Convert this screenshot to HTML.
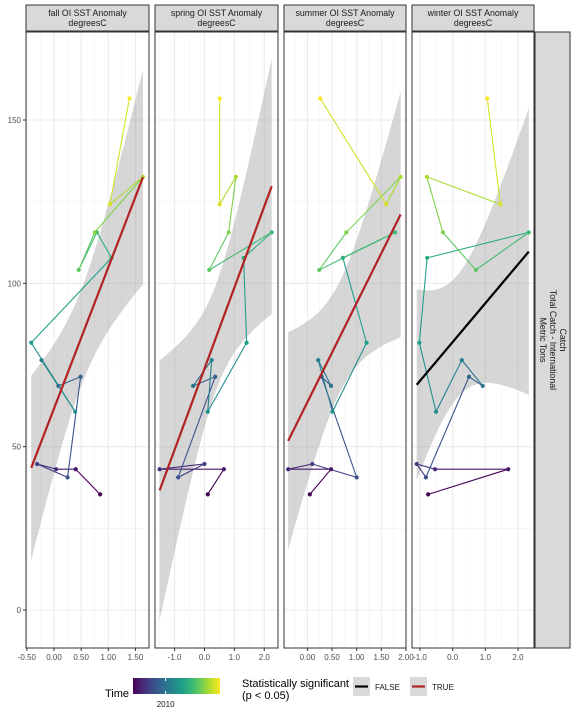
<!DOCTYPE html>
<html><head><meta charset="utf-8"><style>
body{margin:0;background:#fff;}
svg{display:block;font-family:"Liberation Sans",sans-serif;}
</style></head><body>
<svg id="chart" width="576" height="720" viewBox="0 0 576 720" xmlns="http://www.w3.org/2000/svg">
<defs>
<linearGradient id="vir" x1="0" x2="1" y1="0" y2="0">
<stop offset="0" stop-color="#440154"/><stop offset="0.11" stop-color="#482878"/><stop offset="0.22" stop-color="#3E4A89"/><stop offset="0.33" stop-color="#31688E"/><stop offset="0.44" stop-color="#26828E"/><stop offset="0.56" stop-color="#1F9E89"/><stop offset="0.67" stop-color="#35B779"/><stop offset="0.78" stop-color="#6DCD59"/><stop offset="0.89" stop-color="#B4DE2C"/><stop offset="1" stop-color="#FDE725"/>
</linearGradient>
</defs>
</svg>
<script>
const years=[2004,2005,2006,2007,2008,2009,2010,2011,2012,2013,2014,2015,2016,2017,2018,2019,2020];
const catchVals=[35.4,43.1,43.1,44.7,40.6,71.4,68.6,76.5,60.7,81.8,107.8,115.6,104.1,115.6,132.6,124.2,156.6];
const panelNames=["fall","spring","summer","winter"];
const fallX=[0.85,0.40,0.04,-0.31,0.25,0.49,0.08,-0.23,0.39,-0.42,1.06,0.79,0.455,0.75,1.64,1.03,1.39];
const springX=[0.11,0.65,-1.5,0.0,-0.88,0.36,-0.38,0.24,0.11,1.41,1.31,2.25,0.16,0.81,1.05,0.51,0.51];
const summerX=[0.05,0.48,-0.39,0.10,1.00,0.29,0.48,0.22,0.51,1.20,0.72,1.78,0.24,0.79,1.89,1.60,0.26];
const winterX=[-0.75,1.70,-0.54,-1.10,-0.82,0.50,0.92,0.28,-0.51,-1.02,-0.78,2.33,0.71,-0.30,-0.79,1.46,1.06];
const significant=[true,true,true,false];
const xTicks=[[-0.5,0,0.5,1,1.5],[-1,0,1,2],[0,0.5,1,1.5,2],[-1,0,1,2]];
const xTickLabels=[["-0.50","0.00","0.50","1.00","1.50"],["-1.0","0.0","1.0","2.0"],["0.00","0.50","1.00","1.50","2.00"],["-1.0","0.0","1.0","2.0"]];
const yTicks=[0,50,100,150];

const NS="http://www.w3.org/2000/svg";
const svg=document.getElementById('chart');
function mk(tag,attrs,parent){const e=document.createElementNS(NS,tag);for(const k in attrs)e.setAttribute(k,attrs[k]);(parent||svg).appendChild(e);return e;}
const panels=[{l:26,r:149,x0:-0.516,x1:1.75},{l:155,r:278,x0:-1.655,x1:2.46},{l:284,r:406,x0:-0.474,x1:2.0},{l:412,r:534,x0:-1.245,x1:2.49}];
const allX=[fallX,springX,summerX,winterX];
const TOP=32,BOT=648;
function yS(v){return 610-v*3.2667;}
const vir=["#440154","#482878","#3E4A89","#31688E","#26828E","#1F9E89","#35B779","#6DCD59","#B4DE2C","#FDE725"];
function hex(h){return [1,3,5].map(i=>parseInt(h.substr(i,2),16));}
function color(y){const t=(y-years[0])/(years[years.length-1]-years[0]);const p=t*(vir.length-1);const i=Math.min(Math.floor(p),vir.length-2);const f=p-i;const a=hex(vir[i]),b=hex(vir[i+1]);return 'rgb('+a.map((c,k)=>Math.round(c+(b[k]-c)*f)).join(',')+')';}

panels.forEach((P,pi)=>{
  const xs=v=>P.l+(v-P.x0)/(P.x1-P.x0)*(P.r-P.l);
  const g=mk('g',{});
  
  
  mk('clipPath',{id:'clip'+pi},g);
  mk('rect',{x:P.l,y:TOP,width:P.r-P.l,height:BOT-TOP},document.getElementById('clip'+pi));
  mk('rect',{x:P.l,y:TOP,width:P.r-P.l,height:BOT-TOP,fill:'#fff'},g);
  [25,75,125].forEach(v=>mk('line',{x1:P.l,x2:P.r,y1:yS(v),y2:yS(v),stroke:'#f2f2f2','stroke-width':0.55},g));
  const tk=xTicks[pi],step=tk[1]-tk[0];
  for(let v=tk[0]-step/2;v<=P.x1;v+=step){if(v>=P.x0)mk('line',{x1:xs(v),x2:xs(v),y1:TOP,y2:BOT,stroke:'#f2f2f2','stroke-width':0.55},g);}
  yTicks.forEach(v=>mk('line',{x1:P.l,x2:P.r,y1:yS(v),y2:yS(v),stroke:'#ebebeb','stroke-width':1.1},g));
  tk.forEach(v=>mk('line',{x1:xs(v),x2:xs(v),y1:TOP,y2:BOT,stroke:'#ebebeb','stroke-width':1.1},g));
  const X=allX[pi],n=X.length;
  const mx=X.reduce((a,b)=>a+b)/n,my=catchVals.reduce((a,b)=>a+b)/n;
  let sxx=0,sxy=0;X.forEach((x,i)=>{sxx+=(x-mx)**2;sxy+=(x-mx)*(catchVals[i]-my);});
  const b=sxy/sxx,a=my-b*mx;
  let sse=0;X.forEach((x,i)=>{sse+=(catchVals[i]-a-b*x)**2;});
  const s=Math.sqrt(sse/(n-2)),t=2.131;
  const xmin=Math.min(...X),xmax=Math.max(...X);
  const up=[],lo=[];
  for(let k=0;k<=80;k++){const x=xmin+(xmax-xmin)*k/80;const f=a+b*x;const se=s*Math.sqrt(1/n+(x-mx)**2/sxx);up.push(xs(x).toFixed(1)+','+yS(f+t*se).toFixed(1));lo.unshift(xs(x).toFixed(1)+','+yS(f-t*se).toFixed(1));}
  const band=mk('polygon',{points:up.concat(lo).join(' '),fill:'#999',opacity:0.4,'clip-path':'url(#clip'+pi+')'},g);
  
  
  for(let i=0;i<n-1;i++){
    const seg=mk('line',{x1:xs(X[i]),y1:yS(catchVals[i]),x2:xs(X[i+1]),y2:yS(catchVals[i+1]),stroke:color(years[i]),'stroke-width':1.1},g);
    
    
  }
  for(let i=0;i<n;i++){
    const pt=mk('circle',{cx:xs(X[i]),cy:yS(catchVals[i]),r:2.1,fill:color(years[i])},g);
    
    
  }
  const fit=mk('line',{x1:xs(xmin),y1:yS(a+b*xmin),x2:xs(xmax),y2:yS(a+b*xmax),stroke:significant[pi]?'#B22222':'#000','stroke-width':2.2,'clip-path':'url(#clip'+pi+')'},g);
  
  
  mk('rect',{x:P.l,y:TOP,width:P.r-P.l,height:BOT-TOP,fill:'none',stroke:'#333','stroke-width':1},g);
  mk('rect',{x:P.l,y:5,width:P.r-P.l,height:26,fill:'#d9d9d9',stroke:'#333','stroke-width':1},g);
  const st=mk('text',{x:(P.l+P.r)/2,y:16,'text-anchor':'middle','font-size':8.8,fill:'#1a1a1a'},g);
  st.textContent=panelNames[pi]+' OI SST Anomaly';
  
  
  const st2=mk('text',{x:(P.l+P.r)/2,y:26,'text-anchor':'middle','font-size':8.8,fill:'#1a1a1a'},g);
  st2.textContent='degreesC';
  tk.forEach((v,k)=>{
    mk('line',{x1:xs(v),x2:xs(v),y1:BOT,y2:BOT+3,stroke:'#333','stroke-width':1},g);
    const tl=mk('text',{x:xs(v),y:BOT+12,'text-anchor':'middle','font-size':8,fill:'#4d4d4d'},g);
    tl.textContent=xTickLabels[pi][k];
    
    
  });
});
yTicks.forEach(v=>{
  mk('line',{x1:23,x2:26,y1:yS(v),y2:yS(v),stroke:'#333','stroke-width':1});
  const tl=mk('text',{x:21,y:yS(v)+3,'text-anchor':'end','font-size':8,fill:'#4d4d4d'});
  tl.textContent=v;
  
  
});
const rs=mk('rect',{x:535,y:32,width:35,height:616,fill:'#d9d9d9',stroke:'#333','stroke-width':1});


['Catch','Total Catch - International','Metric Tons'].forEach((s,i)=>{
  const tx=mk('text',{x:0,y:0,'text-anchor':'middle','font-size':8.8,fill:'#1a1a1a',transform:'translate('+(560-i*10)+',340) rotate(90)'});
  tx.textContent=s;
});
const lt=mk('text',{x:105,y:697,'font-size':11,fill:'#000'});lt.textContent='Time';


const cb=mk('rect',{x:133,y:678,width:87,height:16,fill:'url(#vir)'});


const x2010=133+87*(2010-years[0])/(years[years.length-1]-years[0]);
mk('line',{x1:x2010,x2:x2010,y1:678,y2:681,stroke:'#fff'});
mk('line',{x1:x2010,x2:x2010,y1:691,y2:694,stroke:'#fff'});
const cl=mk('text',{x:x2010,y:707,'text-anchor':'middle','font-size':8,fill:'#1a1a1a'});cl.textContent='2010';
const s1=mk('text',{x:242,y:687,'font-size':11,fill:'#000'});s1.textContent='Statistically significant';


const s2=mk('text',{x:242,y:699,'font-size':11,fill:'#000'});s2.textContent='(p < 0.05)';
[[353,'#000','FALSE',375],[410,'#B22222','TRUE',432]].forEach(d=>{
  const k=mk('rect',{x:d[0],y:677,width:17,height:19,fill:'#d9d9d9'});
  
  
  mk('line',{x1:d[0]+2,x2:d[0]+15,y1:686.5,y2:686.5,stroke:d[1],'stroke-width':2.2});
  const tt=mk('text',{x:d[3],y:690,'font-size':8,fill:'#1a1a1a'});tt.textContent=d[2];
});
</script>
</body></html>
